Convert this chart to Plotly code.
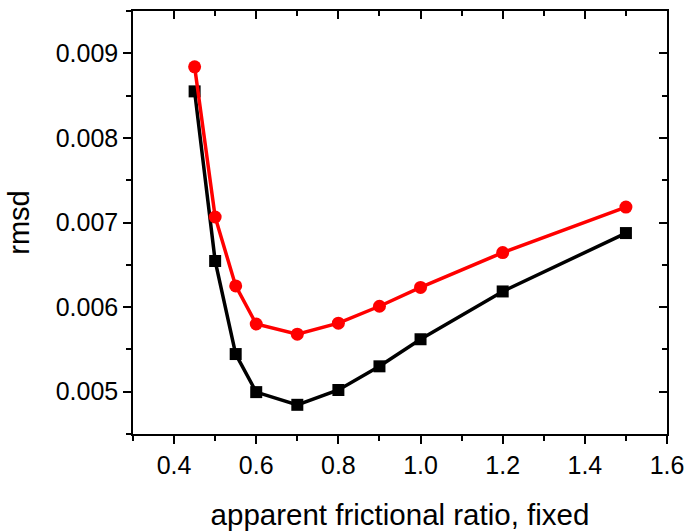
import plotly.graph_objects as go

x_vals = [0.45, 0.5, 0.55, 0.6, 0.7, 0.8, 0.9, 1.0, 1.2, 1.5]
black_rmsd = [0.008550, 0.006545, 0.005445, 0.004995, 0.004845, 0.005020, 0.005300, 0.005620, 0.006185, 0.006875]
red_rmsd = [0.008840, 0.007065, 0.006250, 0.005800, 0.005680, 0.005810, 0.006010, 0.006232, 0.006645, 0.007182]

x_range = [0.3, 1.6]
y_range = [0.0045, 0.0095]
x_ticks = [0.4, 0.6, 0.8, 1.0, 1.2, 1.4, 1.6]
x_ticklabels = ["0.4", "0.6", "0.8", "1.0", "1.2", "1.4", "1.6"]
y_ticks = [0.005, 0.006, 0.007, 0.008, 0.009]
y_ticklabels = ["0.005", "0.006", "0.007", "0.008", "0.009"]
x_minor = [0.3, 0.5, 0.7, 0.9, 1.1, 1.3, 1.5]
y_minor = [0.0045, 0.0055, 0.0065, 0.0075, 0.0085, 0.0095]

FONT = "Liberation Sans, Arial, sans-serif"

fig = go.Figure()
fig.add_trace(go.Scatter(
    x=x_vals, y=black_rmsd, mode="lines+markers",
    line=dict(color="black", width=3.5),
    marker=dict(symbol="square", size=12, color="black"),
    showlegend=False,
))
fig.add_trace(go.Scatter(
    x=x_vals, y=red_rmsd, mode="lines+markers",
    line=dict(color="#ff0000", width=3.5),
    marker=dict(symbol="circle", size=13, color="#ff0000"),
    showlegend=False,
))
# invisible trace to anchor mirrored axes
fig.add_trace(go.Scatter(x=x_vals, y=red_rmsd, xaxis="x2", yaxis="y2",
                         mode="markers", marker=dict(opacity=0),
                         hoverinfo="skip", showlegend=False))

axis_common = dict(showgrid=False, zeroline=False, showline=True,
                   linecolor="black", linewidth=1.5, tickcolor="black",
                   tickwidth=1.5, automargin=False)

fig.update_layout(
    width=686, height=531,
    margin=dict(l=133, r=19, t=11, b=97),
    plot_bgcolor="white", paper_bgcolor="white",
    font=dict(family=FONT, color="black"),
    showlegend=False,
    xaxis=dict(
        range=x_range, tickvals=x_ticks, ticktext=x_ticklabels,
        ticks="outside", ticklen=8,
        minor=dict(tickvals=x_minor, ticks="outside",
                   ticklen=5, tickcolor="black", tickwidth=1.5),
        tickfont=dict(size=25, family=FONT),
        title=dict(text="apparent frictional ratio, fixed",
                   font=dict(size=29.5, family=FONT), standoff=27),
        **axis_common,
    ),
    yaxis=dict(
        range=y_range, tickvals=y_ticks, ticktext=y_ticklabels,
        ticks="outside", ticklen=8,
        minor=dict(tickvals=y_minor,
                   ticks="outside", ticklen=5, tickcolor="black", tickwidth=1.5),
        tickfont=dict(size=25, family=FONT),
        title=dict(text="rmsd", font=dict(size=29, family=FONT), standoff=18),
        **axis_common,
    ),
    xaxis2=dict(
        overlaying="x", side="top", range=x_range, tickvals=x_ticks,
        showticklabels=False, ticks="inside", ticklen=8,
        minor=dict(tickvals=x_minor, ticks="inside",
                   ticklen=5, tickcolor="black", tickwidth=1.5),
        **axis_common,
    ),
    yaxis2=dict(
        overlaying="y", side="right", range=y_range, tickvals=y_ticks,
        showticklabels=False, ticks="inside", ticklen=8,
        minor=dict(tickvals=y_minor,
                   ticks="inside", ticklen=5, tickcolor="black", tickwidth=1.5),
        **axis_common,
    ),
)

fig.write_html("out.html")
